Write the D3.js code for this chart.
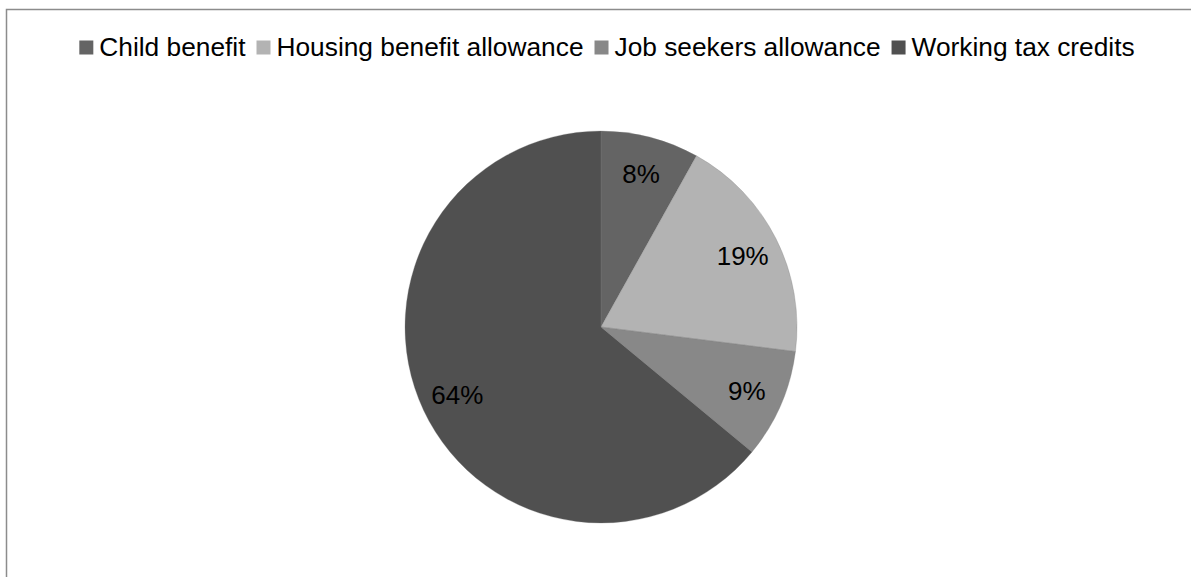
<!DOCTYPE html>
<html>
<head>
<meta charset="utf-8">
<script src="https://cdn.jsdelivr.net/npm/d3@7"></script>
<style>
  body { margin: 0; background: #fff; }
  svg { display: block; font-family: "Liberation Sans", Arial, sans-serif; }
</style>
</head>
<body>
<svg id="chart"></svg>
<script>
const categories = ["Child benefit", "Housing benefit allowance", "Job seekers allowance", "Working tax credits"]
const values = [8.1, 18.9, 9.0, 64.0]
const labels = ["8%", "19%", "9%", "64%"]
const colors = ["#646464", "#b3b3b3", "#888888", "#505050"]

let W = 1191, H = 577
let cx = 601, cy = 327, R = 196

const svg = d3.select("#chart").attr("width", W).attr("height", H)

// chart area border (runs off the right and bottom of the window)
svg.append("rect")
  .attr("x", 6.5).attr("y", 9.5)
  .attr("width", W + 20).attr("height", H + 20)
  .attr("fill", "none").attr("stroke", "#8c8c8c").attr("stroke-width", 1.5)

const pie = d3.pie().sort(null).value(d => d)
const arcs = pie(values)
const arc = d3.arc().innerRadius(0).outerRadius(R)
const labelArc = d3.arc().innerRadius(R * 0.81).outerRadius(R * 0.81)

const g = svg.append("g").attr("transform", `translate(${cx},${cy})`)

g.selectAll("path.slice")
  .data(arcs)
  .join("path")
  .attr("class", "slice")
  .attr("d", arc)
  .attr("fill", (d, i) => colors[i])
  .attr("stroke", "#7a7a7a")
  .attr("stroke-width", 0.3)

g.selectAll("text.lbl")
  .data(arcs)
  .join("text")
  .attr("class", "lbl")
  .attr("transform", d => `translate(${labelArc.centroid(d)})`)
  .attr("text-anchor", "middle")
  .attr("dy", "0.38em")
  .style("font-size", "26px")
  .style("fill", "#000")
  .text((d, i) => labels[i])

// legend, centred across the top
const leg = svg.append("g")
let sq = 14, gapIn = 6, gapOut = 11
let xPos = 0
categories.forEach((c, i) => {
  let item = leg.append("g").attr("transform", `translate(${xPos},0)`)
  item.append("rect").attr("x", 0).attr("y", 40.5).attr("width", sq).attr("height", sq)
    .attr("fill", colors[i])
  let t = item.append("text").attr("x", sq + gapIn).attr("y", 56)
    .style("font-size", "26.3px").style("fill", "#000").text(c)
  xPos += sq + gapIn + t.node().getComputedTextLength() + gapOut
})
let legW = xPos - gapOut
leg.attr("transform", `translate(${(77 + 1137) / 2 - legW / 2},0)`)
</script>
</body>
</html>
